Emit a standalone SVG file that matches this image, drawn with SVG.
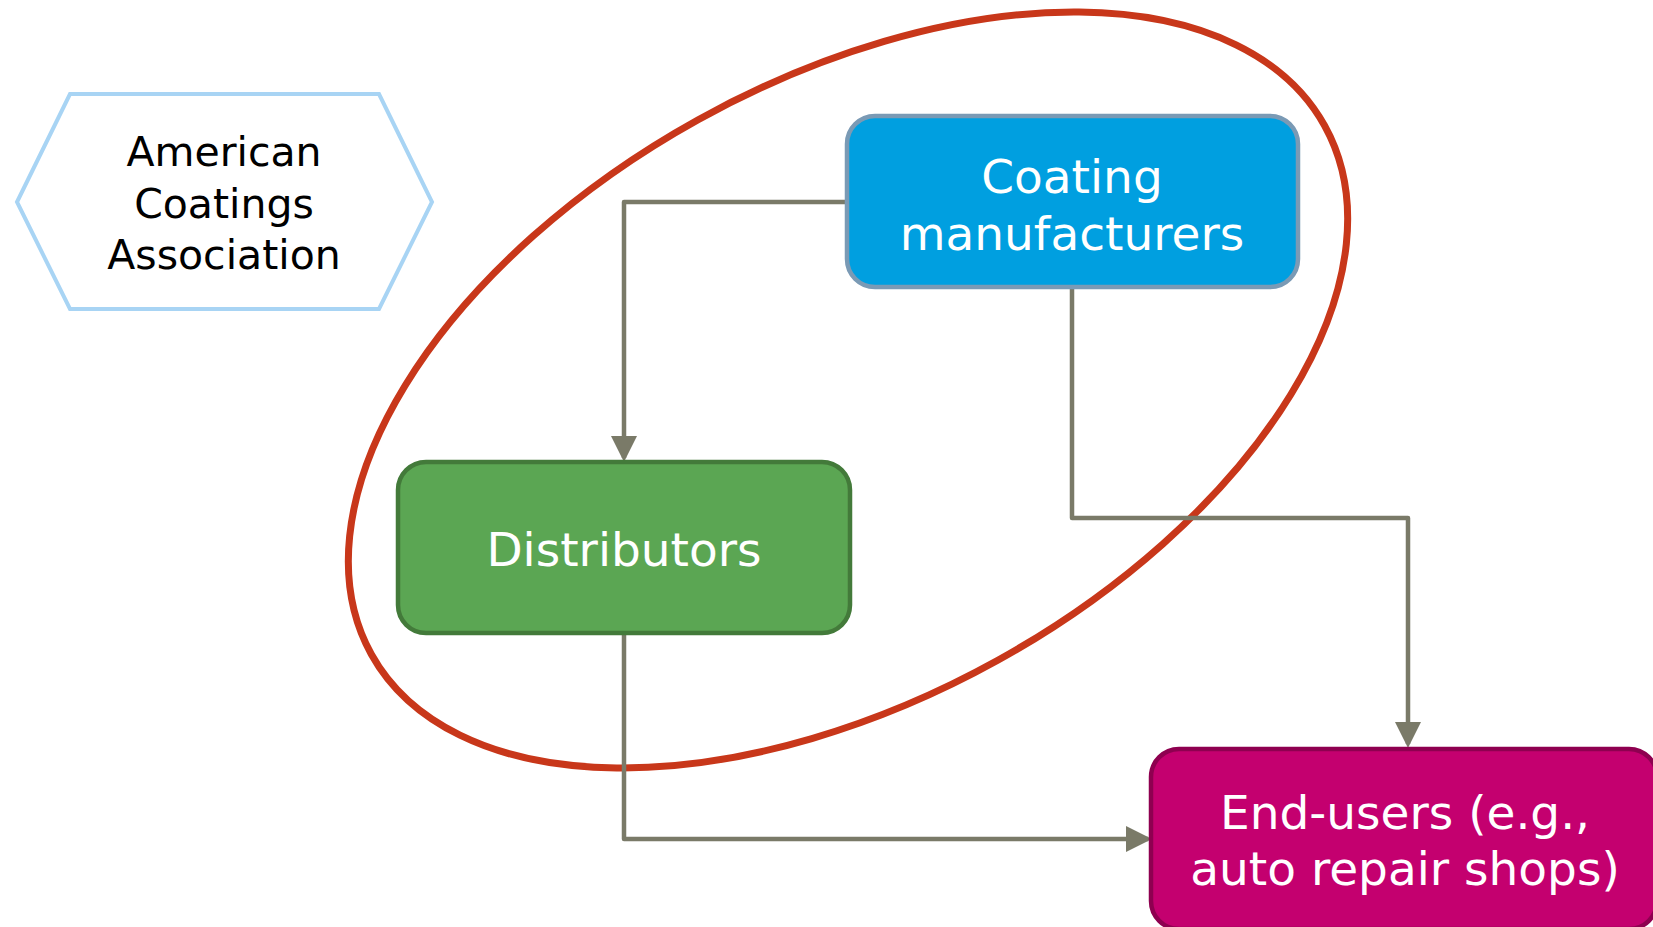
<svg xmlns="http://www.w3.org/2000/svg" width="1653" height="927" viewBox="0 0 1653 927">
<style>
.lbl{font-family:"DejaVu Sans","Verdana",sans-serif;text-anchor:middle}
.w{fill:#ffffff;font-size:47px}
.k{fill:#000000;font-size:41px}
.conn{fill:none;stroke:#7A7A68;stroke-width:4.5;stroke-linejoin:round}
</style>
<defs>
<marker id="arr" markerUnits="userSpaceOnUse" viewBox="0 0 26 26" markerWidth="26" markerHeight="26" refX="22" refY="13" orient="auto">
<path d="M0,0 L26,13 L0,26 z" fill="#7A7A68"/>
</marker>
</defs>
<rect width="1653" height="927" fill="#ffffff"/>
<g id="group-ellipse">
<ellipse cx="848" cy="390" rx="545" ry="309" transform="rotate(-29 848 390)" fill="none" stroke="#C8371A" stroke-width="7"/>
</g>
<g id="connectors">
<path class="conn" d="M847,202 H624 V458" marker-end="url(#arr)"/>
<path class="conn" d="M1072,287 V518 H1408 V744" marker-end="url(#arr)"/>
<path class="conn" d="M624,633 V839 H1148" marker-end="url(#arr)"/>
</g>
<g id="aca">
<polygon points="17,202 70,94 379,94 432,202 379,309 70,309" fill="#ffffff" stroke="#A8D4F4" stroke-width="4"/>
<text class="lbl k" x="224" y="166">American</text>
<text class="lbl k" x="224" y="218">Coatings</text>
<text class="lbl k" x="224" y="269">Association</text>
</g>
<g id="manufacturers">
<rect x="847" y="116" width="451" height="171" rx="28" fill="#009FE0" stroke="#7A9AB5" stroke-width="4.5"/>
<text class="lbl w" x="1072" y="193">Coating</text>
<text class="lbl w" x="1072" y="250">manufacturers</text>
</g>
<g id="distributors">
<rect x="398" y="462" width="452" height="171" rx="28" fill="#5BA653" stroke="#437A3A" stroke-width="4.5"/>
<text class="lbl w" x="624" y="566">Distributors</text>
</g>
<g id="endusers">
<rect x="1151" y="749" width="506" height="180" rx="28" fill="#C4006F" stroke="#8E0050" stroke-width="4.5"/>
<text class="lbl w" x="1405" y="829">End-users (e.g.,</text>
<text class="lbl w" x="1405" y="885">auto repair shops)</text>
</g>
</svg>
